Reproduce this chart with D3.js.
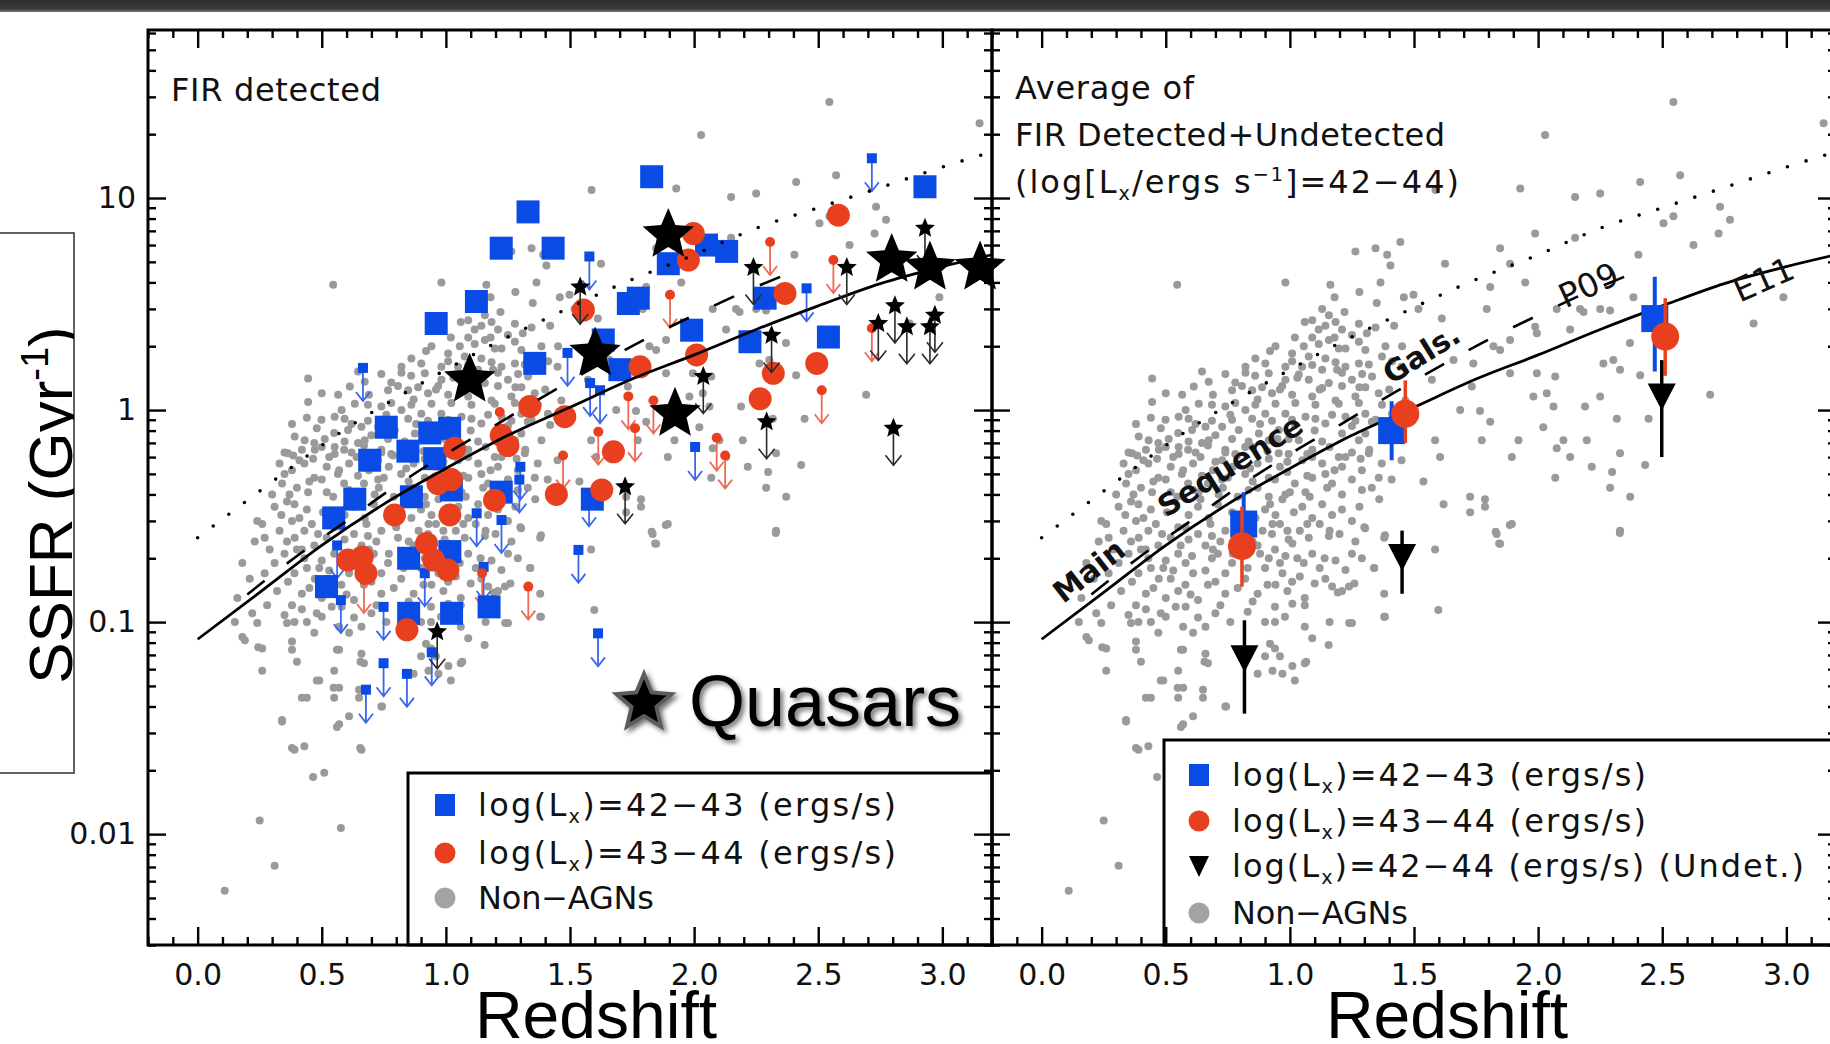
<!DOCTYPE html>
<html>
<head>
<meta charset="utf-8">
<script src="https://cdn.jsdelivr.net/npm/d3@7"></script>
<style>
  html, body { margin: 0; padding: 0; background: #fff; overflow: hidden; }
  svg { display: block; }
</style>
</head>
<body>
<svg id="chart" width="1830" height="1044"></svg>
<script>
// ---------------------------------------------------------------
// Specific star-formation rate vs. redshift for X-ray AGN hosts
// ---------------------------------------------------------------

// axis ticks
const xTickValues = [0, 0.5, 1, 1.5, 2, 2.5, 3];
const xTickLabels = ["0.0", "0.5", "1.0", "1.5", "2.0", "2.5", "3.0"];
const yTickValues = [0.01, 0.1, 1, 10];
const yTickLabels = ["0.01", "0.1", "1", "10"];

// non-AGN comparison galaxies [redshift, SSFR in Gyr^-1]
const nonAgn = [
  [0.35,0.63],[0.42,0.65],[0.50,0.67],[0.59,0.65],[0.67,0.68],[0.74,0.63],[0.82,0.67],[1.09,0.65],[1.16,0.67],[1.25,0.63],[1.32,0.65],
  [0.38,0.52],[0.43,0.56],[0.52,0.54],[0.61,0.56],[0.69,0.52],[0.77,0.54],[0.87,0.56],[0.96,0.54],[1.05,0.58],[1.13,0.56],[1.21,0.54],[1.29,0.52],[1.37,0.56],[1.45,0.58],
  [0.34,0.45],[0.40,0.43],[0.50,0.47],[0.61,0.42],[0.67,0.45],[0.75,0.48],[0.87,0.43],[0.94,0.47],[1.02,0.45],[1.09,0.48],[1.17,0.45],[1.25,0.47],[1.33,0.43],[1.41,0.47],
  [0.24,0.30],[0.31,0.35],[0.39,0.36],[0.44,0.34],[0.63,0.35],[0.71,0.36],[0.90,0.34],[0.97,0.38],[1.05,0.35],[1.13,0.36],[1.21,0.34],[1.28,0.35],[1.36,0.38],
  [0.26,0.29],[0.36,0.24],[0.43,0.27],[0.55,0.28],[0.63,0.26],[0.74,0.27],[0.89,0.27],[0.96,0.29],[1.04,0.27],[1.12,0.29],[1.20,0.26],[1.30,0.28],[1.38,0.25],
  [0.40,0.22],[0.47,0.23],[0.55,0.21],[0.66,0.23],[0.71,0.21],[0.87,0.23],[0.94,0.22],[1.01,0.235],[1.09,0.21],[1.14,0.20],[1.25,0.21],[1.34,0.18],
  [0.39,0.17],[0.44,0.18],[0.53,0.175],[0.58,0.19],[0.66,0.175],[0.74,0.17],[0.90,0.18],[0.97,0.17],[1.04,0.164],[1.10,0.152],[1.21,0.14],[1.26,0.152],[1.38,0.136],
  [0.42,0.136],[0.50,0.13],[0.55,0.14],[0.63,0.127],[0.74,0.136],[0.87,0.136],[0.94,0.118],[1.01,0.122],[1.17,0.147],
  [0.24,0.099],[0.36,0.099],[0.39,0.10],[0.44,0.10],[0.50,0.106],[0.57,0.095],[0.61,0.089],[0.66,0.095],[0.58,0.118],[0.47,0.089],[0.90,0.10],[0.94,0.10],[0.98,0.106],[1.06,0.095],[1.09,0.084],[1.16,0.10],[1.25,0.099],[1.38,0.106],
  [0.19,0.082],[0.26,0.075],[0.38,0.081],[0.38,0.074],[0.57,0.074],[0.66,0.071],[0.67,0.064],[0.40,0.065],[0.26,0.059],[0.55,0.059],[0.92,0.079],[0.94,0.075],[0.90,0.069],[0.96,0.069],[0.87,0.057],[0.93,0.059],[0.97,0.057],[1.01,0.062],[1.02,0.053],[1.06,0.064],[0.49,0.053],
  [0.42,0.044],[0.44,0.044],[0.55,0.044],[0.57,0.049],[0.65,0.044],[0.65,0.048],[0.34,0.034],[0.57,0.033],[0.61,0.036],[0.74,0.040],[0.39,0.025],[0.43,0.026],
  [0.109,0.0054],[0.31,0.0071],[0.25,0.0116],[0.465,0.0186],[0.51,0.0195],[0.577,0.0107],[0.655,0.0255],[0.18,0.085],[0.244,0.076],
  [1.598,0.114],[1.383,0.106],[1.303,0.277],[1.383,0.257],[1.239,0.099],[1.829,0.267],[1.843,0.235],[1.886,0.287],[1.786,0.38],[1.339,0.18],[1.224,0.176],[1.066,0.065],
  [1.238,0.147],[0.34,0.0345],[0.48,0.053],[0.548,0.049],[0.561,0.032],[0.66,0.025],[0.38,0.0255],[0.656,0.065],[0.743,0.040],[0.561,0.074],[1.156,0.078],[2.329,0.263],[1.585,0.22],[1.06,0.12],[1.193,0.138],
  [1.445,6.2],[1.264,5.6],[1.345,5.8],[1.392,5.4],[1.405,4.8],[0.546,3.9],[0.982,4.0],[1.163,3.9],[1.365,4.0],[1.459,3.4],
  [1.13,3.0],[1.157,2.8],[1.09,2.65],[1.184,2.6],[1.116,2.4],[1.21,2.4],[1.25,2.26],[1.09,2.2],[1.157,2.14],[1.278,2.1],[1.056,2.0],[1.224,1.95],[1.304,1.92],[1.452,2.0],
  [1.009,1.85],[1.076,1.79],[1.143,1.75],[1.371,1.79],[0.982,1.6],[1.049,1.6],[1.13,1.55],[1.224,1.6],[1.278,1.66],[0.861,1.75],[0.821,1.6],[0.915,1.49],[0.982,1.39],
  [1.076,1.39],[1.157,1.34],[1.25,1.39],[1.331,1.44],[0.767,1.24],[0.848,1.24],[0.928,1.2],[1.009,1.18],[1.09,1.16],[1.184,1.11],[1.264,1.16],[1.358,1.2],[0.445,1.41],
  [0.646,1.52],[0.613,1.29],[0.566,1.18],[0.673,1.36],[0.445,1.09],[0.74,1.04],[0.821,1.0],[0.901,0.96],[0.982,0.96],[1.063,0.93],[1.143,0.865],[1.224,0.93],[1.304,0.96],
  [1.411,0.96],[1.465,1.11],[0.391,0.75],[0.552,0.93],[0.606,0.805],[0.66,0.835],[0.727,0.835],[0.794,0.805],[0.875,0.776],[0.955,0.805],[1.036,0.72],[1.21,0.776],
  [1.304,0.776],[1.385,0.72],[0.364,0.625],[0.472,0.65],[0.552,0.67],[0.646,0.70],[0.74,0.65],[0.848,0.67],[0.955,0.625],[1.09,0.60],[1.224,0.60],[1.318,0.625],
  [2.545,28.4],[2.028,19.8],[3.15,22.5],[1.928,11.1],[2.149,10.1],[2.25,10.5],[2.411,11.9],[2.572,12.8],[2.733,9.1],[2.773,7.9],[2.505,7.6],[2.545,8.2],[2.727,6.8],
  [2.626,6.0],[1.988,6.8],[1.847,5.8],[2.149,6.5],[1.625,4.9],[1.807,3.8],[1.887,4.9],[1.948,4.0],[2.075,3.0],[2.169,3.0],[2.25,3.0],[2.404,5.4],[2.384,3.4],[1.793,3.0],
  [1.612,2.7],[1.498,3.5],[1.518,3.0],[1.887,2.14],[1.82,2.0],[1.995,2.3],[2.129,2.4],[2.183,2.9],[2.29,2.95],[1.988,2.47],[1.887,1.49],[1.739,1.66],[1.659,1.72],
  [1.572,1.39],[1.847,1.92],[1.686,1.0],[1.766,0.99],[1.807,0.88],[1.733,1.29],[1.995,1.49],[2.069,1.44],[1.981,1.16],[2.035,1.2],[2.062,1.04],[2.189,1.04],[2.25,1.16],
  [2.317,0.91],[2.263,1.66],[2.303,1.72],[2.33,1.55],[2.411,1.46],[2.37,2.07],[2.693,1.18],[2.868,2.56],[2.988,3.4],[1.605,0.60],[1.585,0.72],[1.538,0.46],[1.619,0.36],
  [1.726,0.39],[1.786,0.35],[1.726,0.33],[1.894,0.60],[1.921,0.72],[1.773,0.72],[2.021,0.83],[2.075,0.66],[2.129,0.60],[2.102,0.72],[2.196,0.72],[2.216,0.54],
  [2.069,0.48],[2.33,0.625],[2.431,0.55],[2.29,0.43],[2.371,0.39],[2.33,0.27],[2.445,0.91],[1.833,0.26],[1.847,0.234],[1.894,0.29],[1.587,10.9],[2.298,0.51],
  [0.385,0.61],[0.465,0.59],[0.552,0.62],[0.64,0.60],[0.727,0.58],[0.787,0.61],[0.915,0.59],[0.995,0.62],[1.197,0.60],[1.285,0.59],
  [0.35,0.50],[0.47,0.48],[0.565,0.50],[0.646,0.49],[0.727,0.47],[0.82,0.50],[0.915,0.48],[0.99,0.51],[1.07,0.49],[1.143,0.50],[1.358,0.48],
  [0.37,0.40],[0.445,0.41],[0.546,0.39],[0.633,0.41],[0.713,0.40],[0.834,0.42],[0.915,0.39],[0.982,0.40],[1.063,0.41],[1.21,0.40],[1.29,0.42],
  [0.337,0.32],[0.41,0.31],[0.505,0.33],[0.592,0.32],[0.673,0.31],[0.767,0.33],[0.861,0.31],[0.942,0.32],[1.016,0.33],[1.09,0.31],[1.17,0.32],[1.25,0.30],
  [0.391,0.25],[0.485,0.26],[0.592,0.245],[0.686,0.255],[0.807,0.25],[0.928,0.26],[0.995,0.245],[1.076,0.25],[1.157,0.255],[1.264,0.24],
  [0.43,0.20],[0.50,0.195],[0.606,0.205],[0.686,0.20],[0.767,0.19],[0.915,0.20],[0.982,0.205],[1.056,0.19],[1.184,0.195],[1.29,0.20],
  [0.364,0.155],[0.472,0.16],[0.579,0.15],[0.70,0.155],[0.82,0.16],[0.942,0.15],[1.009,0.155],[1.143,0.16],
  [1.143,2.5],[1.278,2.55],[1.345,2.45],[0.942,2.0],[1.116,2.05],[1.197,1.95],[1.385,2.0],
  [0.901,1.66],[1.009,1.7],[1.09,1.63],[1.184,1.68],[1.318,1.64],[1.412,1.7],[0.74,1.48],[0.821,1.5],[1.036,1.47],[1.21,1.5],[1.291,1.48],
  [0.807,1.3],[0.888,1.28],[0.969,1.3],[1.13,1.27],[1.21,1.3],[1.304,1.28],
  [0.633,1.07],[0.686,1.06],[0.78,1.08],[0.861,1.06],[0.942,1.07],[1.022,1.08],[1.103,1.06],[1.197,1.07],[1.278,1.08],[1.371,1.06],
  [0.499,0.90],[0.592,0.91],[0.686,0.89],[0.767,0.90],[0.848,0.91],[0.928,0.89],[1.009,0.90],[1.103,0.91],[1.264,0.89],[1.345,0.90],
  [0.431,0.72],[0.512,0.73],[0.592,0.71],[0.673,0.72],[0.767,0.73],[0.834,0.71],[0.915,0.72],[0.995,0.73],[1.13,0.71],[1.278,0.72],
  [0.33,0.56],[0.41,0.58],[0.47,0.70],[0.53,0.60],[0.57,0.52],[0.62,0.63],[0.70,0.57],[0.78,0.62],[0.84,0.53],[0.91,0.64],[0.99,0.57],[1.07,0.62],[1.18,0.52],
  [0.30,0.40],[0.36,0.37],[0.45,0.46],[0.52,0.41],[0.59,0.45],[0.64,0.38],[0.73,0.43],[0.79,0.39],[0.85,0.46],[0.92,0.36],[1.00,0.41],[1.08,0.39],[1.15,0.43],
  [0.27,0.25],[0.33,0.27],[0.38,0.30],[0.46,0.29],[0.52,0.25],[0.58,0.28],[0.68,0.29],[0.72,0.24],[0.80,0.28],[0.85,0.24],[0.93,0.29],[0.99,0.27],[1.07,0.29],[1.16,0.27],
  [0.31,0.19],[0.35,0.21],[0.42,0.22],[0.49,0.18],[0.56,0.23],[0.61,0.17],[0.69,0.22],[0.77,0.21],[0.83,0.18],[0.88,0.21],[0.96,0.19],[1.03,0.20],[1.12,0.18],
  [0.32,0.14],[0.38,0.12],[0.45,0.145],[0.52,0.16],[0.60,0.135],[0.67,0.15],[0.72,0.12],[0.79,0.145],[0.85,0.125],[0.91,0.15],[0.99,0.14],[1.06,0.13],
  [0.28,0.12],[0.35,0.108],[0.42,0.115],[0.48,0.11],[0.54,0.118],[0.63,0.105],[0.70,0.11],[0.76,0.10],[0.83,0.112],
  [0.55,0.78],[0.62,0.86],[0.70,0.76],[0.76,0.95],[0.88,0.86],[0.95,0.73],[1.02,0.85],[1.10,0.80],[1.17,0.95],[1.25,0.84],[1.33,0.88],
  [0.48,0.82],[0.44,0.92],[0.38,0.86],[0.50,1.2],[0.58,1.0],[0.69,1.18],[0.78,1.35],[0.87,1.12],[0.96,1.25],[1.03,1.42],[1.12,1.25],[1.19,1.55],[1.28,1.28],
  [1.02,2.2],[1.06,2.6],[1.18,2.2],[1.22,2.9],[1.31,2.3],[1.35,3.2],[1.28,3.6],[1.18,3.4],[0.92,1.9],[0.86,1.45],[1.42,2.5],[1.45,1.6],[1.40,1.25],[1.42,0.85],
  [0.16,0.13],[0.21,0.16],[0.22,0.11],[0.27,0.17],[0.18,0.19],[0.29,0.22],[0.23,0.24],[0.15,0.10]
];

// FIR-detected AGN, log Lx = 42-43
const fir4243 = [
  [1.331,8.6],[1.223,5.8],[1.432,5.8],[1.123,3.25],[0.961,2.56],[1.358,1.66],
  [0.760,0.83],[1.015,0.82],[0.935,0.78],[0.847,0.64],[0.693,0.58],[0.955,0.59],[0.633,0.38],[0.861,0.39],[1.223,0.41],[1.022,0.42],
  [1.829,12.6],[2.930,11.3],[2.05,6.0],[2.131,5.6],[1.896,4.9],[1.735,3.18],[1.775,3.37],[2.286,3.37],[1.990,2.38],[2.225,2.10],[2.541,2.21],[1.634,2.14],[1.701,1.55],
  [0.548,0.31],[0.519,0.147],[0.85,0.20],[1.016,0.215],[1.023,0.11],[1.174,0.118],[0.85,0.11],[1.59,0.38]
];
// FIR-detected AGN, log Lx = 43-44
const fir4344 = [
  [1.338,1.04],[1.479,0.93],[1.035,0.66],[1.223,0.76],[1.25,0.68],[1.022,0.47],[0.968,0.45],[1.196,0.376],[1.445,0.40],
  [2.581,8.3],[1.997,6.8],[1.977,5.1],[2.366,3.55],[1.554,2.96],[2.010,1.82],[1.782,1.60],[2.319,1.49],[2.494,1.66],[2.266,1.13],[1.675,0.635],[1.628,0.42],
  [0.793,0.32],[1.016,0.32],[0.605,0.196],[0.663,0.203],[0.678,0.17],[0.922,0.235],[0.951,0.196],[1.008,0.176],[0.843,0.092]
];
// upper limits, log Lx = 42-43
const lim4243 = [
  [0.666,1.58],[1.49,1.86],[1.30,0.54],
  [1.578,5.3],[2.716,15.4],[2.453,3.75],[2.004,0.67],[1.581,1.34],[1.621,1.24],
  [0.562,0.23],[0.577,0.127],[0.749,0.118],[0.749,0.064],[0.678,0.048],[0.843,0.057],[0.943,0.072],[1.124,0.326],[1.224,0.303],
  [1.534,0.219],[1.613,0.0885],[1.577,0.405],[1.296,0.47],[0.915,0.17],[1.152,0.182]
];
// upper limits, log Lx = 43-44
const lim4344 = [
  [1.217,0.98],[1.472,0.61],
  [2.306,6.2],[2.561,5.1],[1.903,3.5],[2.716,2.43],[1.735,1.16],[1.836,1.11],[1.762,0.82],[1.614,0.79],[2.091,0.74],[2.125,0.61],[2.514,1.24],
  [0.67,0.158],[1.146,0.17],[1.332,0.147]
];
// quasars: detections and upper limits
const qso = [[1.096,1.39],[1.896,6.7],[1.601,1.85],[1.923,0.96],[2.796,5.1],[2.950,4.7],[3.152,4.7]];
const qsoLim = [
  [1.541,3.8],[2.239,4.7],[2.615,4.7],[2.930,7.2],[2.809,3.1],[2.742,2.56],[2.857,2.47],[2.97,2.8],[2.95,2.47],
  [2.312,2.25],[2.037,1.44],[2.292,0.88],[2.803,0.82],[1.722,0.435],[0.965,0.09]
];

// main-sequence relations
const e11Z = [0, 0.25, 0.5, 0.75, 1.0, 1.25, 1.5, 1.75, 2.0, 2.25, 2.5, 2.75, 3.0, 3.2];
const e11S = [0.083, 0.138, 0.23, 0.36, 0.53, 0.76, 1.03, 1.40, 1.82, 2.4, 3.1, 3.95, 4.75, 5.4];
const p09Z = [0.2, 0.4, 0.6, 0.8, 1.0, 1.2, 1.4, 1.6, 1.8, 2.0, 2.2, 2.4];
const p09S = [0.135, 0.205, 0.30, 0.44, 0.62, 0.85, 1.17, 1.6, 2.15, 2.8, 3.6, 4.5];
const sbZ = [0, 0.2, 0.4, 0.6, 0.8, 1.0, 1.2, 1.45, 1.7, 2.0, 2.25, 2.5, 2.75, 3.0, 3.2];
const sbS = [0.25, 0.375, 0.56, 0.82, 1.14, 1.55, 2.07, 2.86, 3.9, 5.4, 7.2, 9.0, 11.2, 14.0, 16.5];

// averages of FIR detected + undetected
const avg4243Z = [0.814, 1.41, 2.47],  avg4243S = [0.29, 0.80, 2.7],   avg4243Lo = [0.21, 0.58, 1.52],  avg4243Hi = [0.41, 1.10, 4.25];
const avg4344Z = [0.807, 1.465, 2.512], avg4344S = [0.228, 0.96, 2.22], avg4344Lo = [0.147, 0.70, 1.45], avg4344Hi = [0.35, 1.38, 3.37];
const undetZ = [0.817, 1.452, 2.498],   undetS = [0.0675, 0.203, 1.16], undetLo = [0.037, 0.136, 0.60], undetHi = [0.102, 0.27, 1.72];

// ---------------------------------------------------------------
const BLUE = "#0a4be6", RED = "#e8401e", GRAY = "#9a9a9a";
const BLUE_ARROW = "#3b66ee", RED_ARROW = "#ee6a55", DARK_ARROW = "#2a2a2a";
const IDL_FONT = "'DejaVu Sans', Verdana, sans-serif";
const HELV = "'Liberation Sans', Arial, Helvetica, sans-serif";

const svg = d3.select("#chart");
const defs = svg.append("defs");

const y = d3.scaleLog().domain([0.003, 62]).range([945, 30]);
const xLeft = d3.scaleLinear().domain([-0.2, 3.2]).range([148, 992]);
const xRight = d3.scaleLinear().domain([-0.2, 3.2]).range([992, 1836]);

const zip = (a, b) => a.map((v, i) => [v, b[i]]);

// slide header bar
const grad = defs.append("linearGradient").attr("id", "bar").attr("x1", 0).attr("x2", 0).attr("y1", 0).attr("y2", 1);
grad.append("stop").attr("offset", "0%").attr("stop-color", "#2c2c2c");
grad.append("stop").attr("offset", "75%").attr("stop-color", "#3d3d3d");
grad.append("stop").attr("offset", "100%").attr("stop-color", "#777");
svg.append("rect").attr("x", 0).attr("y", 0).attr("width", 1830).attr("height", 12).attr("fill", "url(#bar)");

const shadow = defs.append("filter").attr("id", "shadow").attr("x", "-20%").attr("y", "-20%").attr("width", "140%").attr("height", "140%");
shadow.append("feDropShadow").attr("dx", 3).attr("dy", 3).attr("stdDeviation", 2.5).attr("flood-color", "#000").attr("flood-opacity", 0.55);

function starPath(R, k) {
  const pts = d3.range(10).map(i => {
    const a = -Math.PI / 2 + i * Math.PI / 5;
    const r = i % 2 ? R * k : R;
    return [r * Math.cos(a), r * Math.sin(a)];
  });
  return d3.line()(pts) + "Z";
}

function richText(sel, parts, size) {
  let shift = 0;
  parts.forEach(p => {
    const [txt, kind] = p;
    const t = sel.append("tspan").text(txt);
    let target = 0;
    if (kind === "sub") { t.attr("font-size", size * 0.6); target = size * 0.22; }
    else if (kind === "sup") { t.attr("font-size", size * 0.6); target = -size * 0.38; }
    if (target !== shift) { t.attr("dy", target - shift); shift = target; }
  });
}

function drawAxes(g, x, withYLabels, withXLabels) {
  const [x0, x1] = x.range();
  const [yb, yt] = y.range();
  const minorX = x.ticks(34).filter(v => !xTickValues.some(m => Math.abs(m - v) < 1e-6));
  const minorY = y.ticks().filter(v => !yTickValues.some(m => Math.abs(m - v) / m < 1e-6));
  const tidy = s => { s.select(".domain").remove(); s.selectAll(".tick line").attr("stroke", "#000").attr("stroke-width", 2.4); };

  // bottom
  g.append("g").attr("transform", `translate(0,${yb})`)
    .call(d3.axisBottom(x).tickValues(minorX).tickSizeInner(-8).tickSizeOuter(0).tickFormat("")).call(tidy);
  const bx = g.append("g").attr("transform", `translate(0,${yb})`)
    .call(d3.axisBottom(x).tickValues(xTickValues).tickSizeInner(-18).tickSizeOuter(0).tickPadding(19)
      .tickFormat((d, i) => withXLabels ? xTickLabels[i] : "")).call(tidy);
  bx.selectAll("text").attr("font-family", IDL_FONT).attr("font-size", 30).attr("fill", "#111");
  // top
  g.append("g").attr("transform", `translate(0,${yt})`)
    .call(d3.axisTop(x).tickValues(minorX).tickSizeInner(-8).tickSizeOuter(0).tickFormat("")).call(tidy);
  g.append("g").attr("transform", `translate(0,${yt})`)
    .call(d3.axisTop(x).tickValues(xTickValues).tickSizeInner(-18).tickSizeOuter(0).tickFormat("")).call(tidy);
  // left
  g.append("g").attr("transform", `translate(${x0},0)`)
    .call(d3.axisLeft(y).tickValues(minorY).tickSizeInner(-8).tickSizeOuter(0).tickFormat("")).call(tidy);
  const ly = g.append("g").attr("transform", `translate(${x0},0)`)
    .call(d3.axisLeft(y).tickValues(yTickValues).tickSizeInner(-18).tickSizeOuter(0).tickPadding(12)
      .tickFormat((d, i) => withYLabels ? yTickLabels[i] : "")).call(tidy);
  ly.selectAll("text").attr("font-family", IDL_FONT).attr("font-size", 30).attr("fill", "#111");
  // right
  g.append("g").attr("transform", `translate(${x1},0)`)
    .call(d3.axisRight(y).tickValues(minorY).tickSizeInner(-8).tickSizeOuter(0).tickFormat("")).call(tidy);
  g.append("g").attr("transform", `translate(${x1},0)`)
    .call(d3.axisRight(y).tickValues(yTickValues).tickSizeInner(-18).tickSizeOuter(0).tickFormat("")).call(tidy);

  g.append("rect").attr("x", x0).attr("y", yt).attr("width", x1 - x0).attr("height", yb - yt)
    .attr("fill", "none").attr("stroke", "#000").attr("stroke-width", 3);
}

function drawNonAgn(g, x) {
  g.append("g").selectAll("circle").data(nonAgn).join("circle")
    .attr("cx", d => x(d[0])).attr("cy", d => y(d[1])).attr("r", 4).attr("fill", GRAY);
}

function drawRelations(g, x) {
  const line = d3.line().x(d => x(d[0])).y(d => y(d[1])).curve(d3.curveMonotoneX);
  g.append("path").attr("d", line(zip(sbZ, sbS))).attr("fill", "none").attr("stroke", "#000")
    .attr("stroke-width", 3.6).attr("stroke-linecap", "round").attr("stroke-dasharray", "0 19.5");
  g.append("path").attr("d", line(zip(p09Z, p09S))).attr("fill", "none").attr("stroke", "#000")
    .attr("stroke-width", 2.6).attr("stroke-dasharray", "22 28");
  g.append("path").attr("d", line(zip(e11Z, e11S))).attr("fill", "none").attr("stroke", "#000")
    .attr("stroke-width", 2.8);
}

function drawLimits(g, x, pts, o) {
  const items = g.append("g").selectAll("g").data(pts).join("g")
    .attr("transform", d => `translate(${x(d[0])},${y(d[1])})`);
  items.append("path")
    .attr("d", `M0,0V${o.len}M${-o.hw},${o.len - o.hh}L0,${o.len}L${o.hw},${o.len - o.hh}`)
    .attr("fill", "none").attr("stroke", o.line).attr("stroke-width", o.lw || 1.8);
  if (o.shape === "square") {
    items.append("rect").attr("x", -5).attr("y", -5).attr("width", 10).attr("height", 10).attr("fill", o.fill);
  } else if (o.shape === "circle") {
    items.append("circle").attr("r", 5).attr("fill", o.fill);
  } else {
    items.append("path").attr("d", starPath(10.5, 0.45)).attr("fill", "#000");
  }
}

// ------------------- left panel: FIR detected -------------------
const left = svg.append("g");
drawNonAgn(left, xLeft);
drawLimits(left, xLeft, lim4243, { shape: "square", fill: BLUE, line: BLUE_ARROW, len: 33, hw: 7, hh: 9 });
drawLimits(left, xLeft, lim4344, { shape: "circle", fill: RED, line: RED_ARROW, len: 33, hw: 7, hh: 9 });
left.append("g").selectAll("rect").data(fir4243).join("rect")
  .attr("x", d => xLeft(d[0]) - 11.5).attr("y", d => y(d[1]) - 11.5).attr("width", 23).attr("height", 23).attr("fill", BLUE);
left.append("g").selectAll("circle").data(fir4344).join("circle")
  .attr("cx", d => xLeft(d[0])).attr("cy", d => y(d[1])).attr("r", 11.5).attr("fill", RED);
drawRelations(left, xLeft);
drawLimits(left, xLeft, qsoLim, { shape: "star", line: DARK_ARROW, len: 37, hw: 8, hh: 10, lw: 1.6 });
left.append("g").selectAll("path").data(qso).join("path")
  .attr("transform", d => `translate(${xLeft(d[0])},${y(d[1])})`)
  .attr("d", starPath(27, 0.45)).attr("fill", "#000");

left.append("text").attr("x", 171).attr("y", 101).attr("font-family", IDL_FONT).attr("font-size", 32)
  .attr("textLength", 210).attr("fill", "#111").text("FIR detected");

// legend
const legL = left.append("g");
legL.append("rect").attr("x", 408).attr("y", 773).attr("width", 584).attr("height", 172)
  .attr("fill", "#fff").attr("stroke", "#000").attr("stroke-width", 3);
const legLRows = [
  { kind: "square", color: BLUE, parts: [["log(L"], ["x", "sub"], [")=42\u221243 (ergs/s)"]], w: 418 },
  { kind: "circle", color: RED, parts: [["log(L"], ["x", "sub"], [")=43\u221244 (ergs/s)"]], w: 418 },
  { kind: "circle", color: "#a3a3a3", parts: [["Non\u2212AGNs"]], w: 176 }
];
const legLY = [805, 853, 898];

// ------------------- right panel: averages -------------------
const right = svg.append("g");
drawNonAgn(right, xRight);
drawRelations(right, xRight);

// labels along the relations
const relLabels = [
  { text: "Main", z: 0.19, s: 0.175, angle: -38, bold: true, size: 30 },
  { text: "Sequence", z: 0.759, s: 0.55, angle: -32, bold: true, size: 30 },
  { text: "Gals.", z: 1.529, s: 1.85, angle: -32, bold: true, size: 30 },
  { text: "P09", z: 2.203, s: 3.9, angle: -25, bold: false, size: 33 },
  { text: "E11", z: 2.908, s: 4.15, angle: -24, bold: false, size: 33 }
];
right.append("g").selectAll("text").data(relLabels).join("text")
  .attr("transform", d => `translate(${xRight(d.z)},${y(d.s)}) rotate(${d.angle})`)
  .attr("text-anchor", "middle").attr("dy", "0.36em")
  .attr("font-family", IDL_FONT).attr("font-weight", d => d.bold ? "bold" : "normal")
  .attr("font-size", d => d.size).attr("fill", "#111").text(d => d.text);

// error bars + symbols
function errBars(g, zs, lo, hi, color, w) {
  g.append("g").selectAll("line").data(zs).join("line")
    .attr("x1", d => xRight(d)).attr("x2", d => xRight(d))
    .attr("y1", (d, i) => y(lo[i])).attr("y2", (d, i) => y(hi[i]))
    .attr("stroke", color).attr("stroke-width", w);
}
errBars(right, avg4243Z, avg4243Lo, avg4243Hi, BLUE, 4);
right.append("g").selectAll("rect").data(zip(avg4243Z, avg4243S)).join("rect")
  .attr("x", d => xRight(d[0]) - 13.5).attr("y", d => y(d[1]) - 13.5).attr("width", 27).attr("height", 27).attr("fill", BLUE);
errBars(right, avg4344Z, avg4344Lo, avg4344Hi, RED, 3.5);
right.append("g").selectAll("circle").data(zip(avg4344Z, avg4344S)).join("circle")
  .attr("cx", d => xRight(d[0])).attr("cy", d => y(d[1])).attr("r", 14).attr("fill", RED);
errBars(right, undetZ, undetLo, undetHi, "#000", 3.5);
right.append("g").selectAll("path").data(zip(undetZ, undetS)).join("path")
  .attr("transform", d => `translate(${xRight(d[0])},${y(d[1])})`)
  .attr("d", "M-14,-13L14,-13L0,14Z").attr("fill", "#000");

right.append("g").attr("font-family", IDL_FONT).attr("font-size", 32).attr("fill", "#111")
  .call(g => {
    g.append("text").attr("x", 1015).attr("y", 99).attr("textLength", 179).text("Average of");
    g.append("text").attr("x", 1015).attr("y", 146).attr("textLength", 430).text("FIR Detected+Undetected");
    const t = g.append("text").attr("x", 1015).attr("y", 193).attr("textLength", 444);
    richText(t, [["(log[L"], ["x", "sub"], ["/ergs s"], ["\u22121", "sup"], ["]=42\u221244)"]], 32);
  });

const legR = right.append("g");
legR.append("rect").attr("x", 1164).attr("y", 740).attr("width", 700).attr("height", 205)
  .attr("fill", "#fff").attr("stroke", "#000").attr("stroke-width", 3);
const legRRows = [
  { kind: "square", color: BLUE, parts: [["log(L"], ["x", "sub"], [")=42\u221243 (ergs/s)"]], w: 414 },
  { kind: "circle", color: RED, parts: [["log(L"], ["x", "sub"], [")=43\u221244 (ergs/s)"]], w: 414 },
  { kind: "triangle", color: "#000", parts: [["log(L"], ["x", "sub"], [")=42\u221244 (ergs/s) (Undet.)"]], w: 572 },
  { kind: "circle", color: "#a3a3a3", parts: [["Non\u2212AGNs"]], w: 176 }
];
const legRY = [775, 821, 866, 913];

function drawLegend(g, rows, ys, mx, tx) {
  rows.forEach((r, i) => {
    const cy = ys[i];
    if (r.kind === "square") g.append("rect").attr("x", mx - 10).attr("y", cy - 11).attr("width", 20).attr("height", 22).attr("fill", r.color);
    else if (r.kind === "circle") g.append("circle").attr("cx", mx).attr("cy", cy).attr("r", 10.5).attr("fill", r.color);
    else g.append("path").attr("d", `M${mx - 10},${cy - 10}L${mx + 10},${cy - 10}L${mx},${cy + 11}Z`).attr("fill", r.color);
    const t = g.append("text").attr("x", tx).attr("y", cy + 11).attr("font-family", IDL_FONT)
      .attr("font-size", 32).attr("fill", "#111").attr("textLength", r.w);
    richText(t, r.parts, 32);
  });
}
drawLegend(legL, legLRows, legLY, 445, 478);
drawLegend(legR, legRRows, legRY, 1199, 1232);

// axes and frames on top
drawAxes(left, xLeft, true, true);
drawAxes(right, xRight, false, true);

// ------------------- slide annotations -------------------
const q = svg.append("g").attr("filter", "url(#shadow)");
q.append("path").attr("transform", "translate(644,703)").attr("d", starPath(29, 0.45))
  .attr("fill", "#000").attr("stroke", "#5c5c5c").attr("stroke-width", 4).attr("stroke-linejoin", "miter");
q.append("text").attr("x", 689).attr("y", 726).attr("font-family", HELV).attr("font-size", 72)
  .attr("fill", "#000").text("Quasars");

svg.append("g").attr("font-family", HELV).attr("font-size", 66).attr("fill", "#000").attr("text-anchor", "middle")
  .call(g => {
    g.append("text").attr("x", 596).attr("y", 1038).text("Redshift");
    g.append("text").attr("x", 1447).attr("y", 1038).text("Redshift");
  });

// y-axis title box
defs.append("clipPath").attr("id", "ybox").append("rect").attr("x", 0).attr("y", 233).attr("width", 74).attr("height", 540);
svg.append("rect").attr("x", -3).attr("y", 233).attr("width", 77).attr("height", 540)
  .attr("fill", "#fff").attr("stroke", "#3a3a3a").attr("stroke-width", 1.6);
const yt = svg.append("g").attr("clip-path", "url(#ybox)")
  .append("text").attr("transform", "translate(72,505) rotate(-90)").attr("text-anchor", "middle")
  .attr("font-family", HELV).attr("font-size", 62).attr("fill", "#000");
yt.append("tspan").text("SSFR (Gyr");
yt.append("tspan").attr("font-size", 38).attr("dy", -24).text("-1");
yt.append("tspan").attr("dy", 24).text(")");
</script>
</body>
</html>
